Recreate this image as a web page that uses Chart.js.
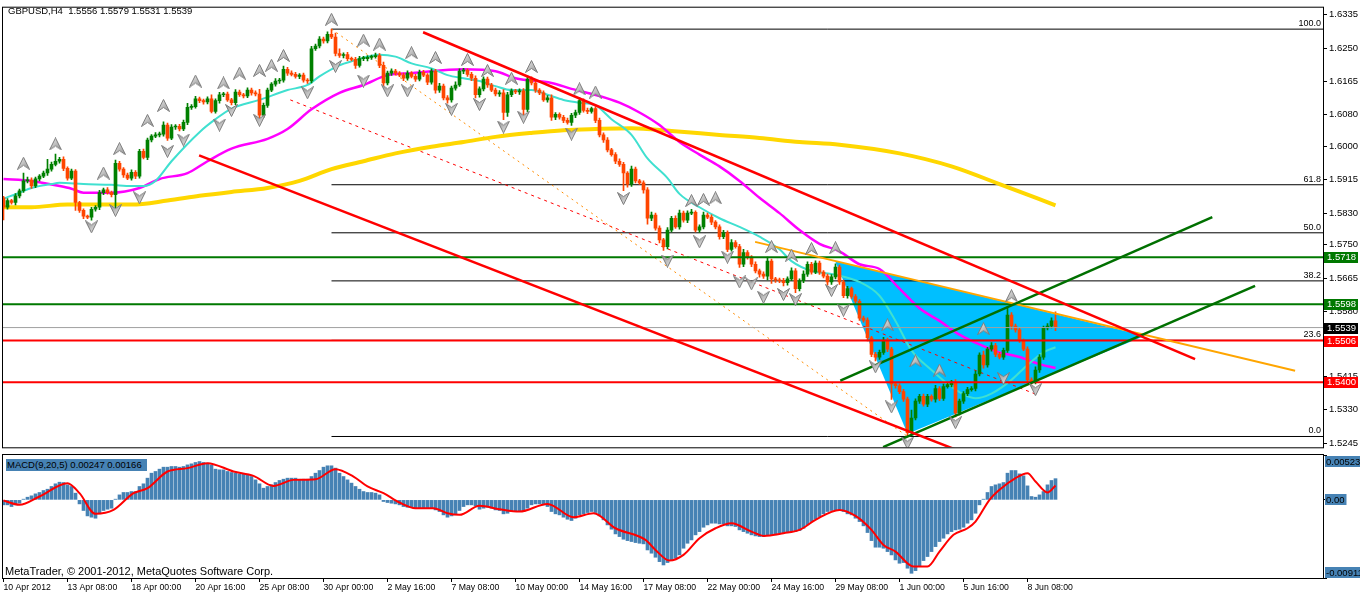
<!DOCTYPE html>
<html lang="en">
<head>
<meta charset="UTF-8">
<title>GBPUSD,H4</title>
<script src="https://cdn.jsdelivr.net/npm/chart.js"></script>
<style>
  body { margin: 0; background: #fff; width: 1360px; height: 596px; overflow: hidden; position: relative;
         font-family: 'Liberation Sans', Arial, sans-serif; }
  #mainChart { position: absolute; left: 0; top: 0; }
  #macdChart { position: absolute; left: 0; top: 453px; }
  .lbl { position: absolute; white-space: pre; color: #000; line-height: 1; }
  #title { left: 8px; top: 6px; font-size: 9.5px; }
  #macdTitle { left: 6px; top: 459px; font-size: 9.5px; background: #4682b4; padding: 1px 2px 1px 1px; width: 138px; }
  #copy { left: 5px; top: 566px; font-size: 11px; }
</style>
</head>
<body>
<canvas id="mainChart" width="1360" height="455"></canvas>
<canvas id="macdChart" width="1360" height="143"></canvas>
<div class="lbl" id="title">GBPUSD,H4  1.5556 1.5579 1.5531 1.5539</div>
<div class="lbl" id="macdTitle">MACD(9,20,5) 0.00247 0.00166</div>
<div class="lbl" id="copy">MetaTrader, © 2001-2012, MetaQuotes Software Corp.</div>

<script>
// ---- data (H4 bars, index 0 = 10 Apr 2012 00:00) ----
const dateLabels = ['10 Apr 2012', '13 Apr 08:00', '18 Apr 00:00', '20 Apr 16:00', '25 Apr 08:00',
  '30 Apr 00:00', '2 May 16:00', '7 May 08:00', '10 May 00:00', '14 May 16:00', '17 May 08:00',
  '22 May 00:00', '24 May 16:00', '29 May 08:00', '1 Jun 00:00', '5 Jun 16:00', '8 Jun 08:00'];
const barsPerLabel = 16;

const priceTickLabels = ['1.6335', '1.6250', '1.6165', '1.6080', '1.6000', '1.5915', '1.5830',
  '1.5750', '1.5665', '1.5580', '1.5500', '1.5415', '1.5330', '1.5245'];

const firstOpen = 1.5869;
const closes = [
  1.5845, 1.5862, 1.5857, 1.5874, 1.5887, 1.5912, 1.5914, 1.5899, 1.5917, 1.5924,
  1.5932, 1.5942, 1.5954, 1.5962, 1.5967, 1.5944, 1.5919, 1.5937, 1.5857, 1.5837,
  1.5822, 1.5820, 1.5840, 1.5845, 1.5882, 1.5889, 1.5882, 1.5877, 1.5957, 1.5942,
  1.5927, 1.5919, 1.5934, 1.5924, 1.5987, 1.5972, 1.6016, 1.6026, 1.6029, 1.6031,
  1.6054, 1.6021, 1.6049, 1.6051, 1.6044, 1.6061, 1.6099, 1.6101, 1.6121, 1.6116,
  1.6113, 1.6121, 1.6089, 1.6116, 1.6131, 1.6133, 1.6118, 1.6111, 1.6138, 1.6131,
  1.6128, 1.6143, 1.6136, 1.6133, 1.6079, 1.6104, 1.6143, 1.6158, 1.6166, 1.6168,
  1.6196, 1.6186, 1.6183, 1.6178, 1.6181, 1.6168, 1.6166, 1.6248, 1.6255, 1.6273,
  1.6268, 1.6285, 1.6278, 1.6236, 1.6231, 1.6233, 1.6223, 1.6221, 1.6206, 1.6223,
  1.6223, 1.6226, 1.6228, 1.6231, 1.6206, 1.6161, 1.6186, 1.6191, 1.6186, 1.6181,
  1.6173, 1.6186, 1.6178, 1.6171, 1.6188, 1.6181, 1.6163, 1.6191, 1.6143, 1.6153,
  1.6123, 1.6118, 1.6148, 1.6156, 1.6191, 1.6193, 1.6183, 1.6173, 1.6131, 1.6146,
  1.6171, 1.6156, 1.6143, 1.6133, 1.6136, 1.6086, 1.6131, 1.6141, 1.6138, 1.6141,
  1.6094, 1.6171, 1.6161, 1.6143, 1.6136, 1.6118, 1.6123, 1.6074, 1.6081, 1.6074,
  1.6066, 1.6061, 1.6079, 1.6086, 1.6116, 1.6091, 1.6089, 1.6096, 1.6066, 1.6029,
  1.6016, 1.5991, 1.5979, 1.5962, 1.5954, 1.5932, 1.5904, 1.5942, 1.5912, 1.5907,
  1.5889, 1.5817, 1.5825, 1.5792, 1.5762, 1.5745, 1.5787, 1.5817, 1.5795, 1.5830,
  1.5812, 1.5830, 1.5832, 1.5787, 1.5795, 1.5825, 1.5820, 1.5807, 1.5795, 1.5770,
  1.5780, 1.5738, 1.5755, 1.5745, 1.5700, 1.5730, 1.5718, 1.5700, 1.5683, 1.5675,
  1.5670, 1.5708, 1.5663, 1.5660, 1.5658, 1.5653, 1.5663, 1.5683, 1.5638, 1.5658,
  1.5675, 1.5700, 1.5680, 1.5703, 1.5680, 1.5670, 1.5655, 1.5668, 1.5693, 1.5655,
  1.5620, 1.5638, 1.5618, 1.5606, 1.5563, 1.5558, 1.5513, 1.5471, 1.5464, 1.5476,
  1.5506, 1.5484, 1.5396, 1.5391, 1.5376, 1.5357, 1.5272, 1.5309, 1.5352, 1.5364,
  1.5344, 1.5364, 1.5357, 1.5384, 1.5359, 1.5389, 1.5394, 1.5401, 1.5322, 1.5352,
  1.5371, 1.5381, 1.5384, 1.5421, 1.5469, 1.5444, 1.5484, 1.5493, 1.5471, 1.5464,
  1.5481, 1.5571, 1.5543, 1.5533, 1.5506, 1.5484, 1.5406, 1.5401, 1.5431, 1.5464,
  1.5538, 1.5543, 1.5556, 1.5539
];
// wick lengths in pips above / below the body
const upWick = [
  4, 5, 3, 6, 4, 20, 8, 6, 5, 4,  5, 25, 6, 18, 5, 6, 4, 5, 4, 3,  4, 3, 5, 4, 6, 5, 6, 4, 8, 5,
  4, 5, 6, 4, 5, 6, 5, 4, 6, 5,  8, 5, 6, 4, 5, 6, 10, 5, 6, 4,  4, 5, 10, 5, 6, 4, 5, 4, 6, 5,
  4, 6, 5, 5, 12, 6, 5, 4, 6, 5,  8, 5, 6, 5, 4, 5, 4, 6, 5, 6,  5, 6, 13, 10, 12, 5, 6, 4, 5, 6,
  6, 5, 4, 6, 5, 8, 5, 6, 5, 4,  5, 6, 4, 5, 6, 5, 4, 6, 5, 7,  5, 6, 5, 8, 6, 5, 4, 5, 6, 5,
  6, 5, 4, 5, 6, 8, 6, 5, 4, 5,  6, 8, 6, 5, 4, 5, 6, 8, 5, 4,  5, 6, 5, 6, 8, 5, 6, 4, 5, 6,
  5, 6, 4, 5, 6, 5, 4, 8, 5, 4,  5, 6, 8, 5, 6, 4, 6, 5, 6, 8,  5, 6, 8, 4, 5, 8, 5, 6, 4, 5,
  6, 5, 8, 5, 6, 8, 5, 4, 6, 5,  6, 10, 5, 4, 5, 6, 5, 8, 6, 5,  8, 6, 5, 6, 5, 4, 5, 6, 8, 5,
  5, 6, 4, 5, 4, 5, 6, 4, 5, 6,  8, 6, 5, 4, 5, 6, 5, 20, 6, 5,  6, 5, 4, 8, 5, 6, 5, 4, 6, 5,
  5, 6, 5, 8, 6, 10, 5, 8, 6, 5,  6, 20, 6, 5, 5, 4, 6, 5, 8, 6,  5, 6, 8, 23
];
const downWick = [
  32, 5, 4, 6, 5, 4, 5, 6, 4, 5,  4, 6, 5, 4, 5, 6, 5, 4, 20, 5,  6, 4, 8, 5, 6, 5, 4, 6, 35, 5,
  6, 4, 5, 6, 5, 4, 6, 5, 4, 5,  5, 6, 4, 6, 5, 4, 6, 5, 4, 5,  6, 5, 4, 5, 6, 5, 4, 6, 5, 4,
  5, 4, 6, 5, 8, 6, 5, 4, 5, 6,  5, 6, 4, 5, 6, 5, 6, 5, 4, 5,  6, 5, 4, 6, 5, 6, 5, 4, 8, 5,
  5, 6, 5, 4, 6, 8, 5, 6, 5, 4,  6, 5, 4, 6, 5, 4, 6, 5, 8, 6,  5, 8, 6, 5, 4, 6, 5, 6, 8, 6,
  5, 6, 4, 5, 6, 18, 10, 5, 4, 6,  15, 6, 5, 6, 5, 4, 6, 8, 6, 5,  6, 5, 8, 6, 5, 4, 6, 5, 6, 5,
  6, 5, 4, 6, 5, 45, 8, 6, 5, 4,  8, 15, 6, 5, 8, 10, 6, 5, 4, 6,  5, 6, 4, 5, 6, 5, 4, 6, 5, 6,
  5, 6, 5, 4, 8, 6, 5, 6, 5, 8,  6, 10, 12, 6, 5, 8, 6, 5, 10, 6,  5, 6, 5, 4, 6, 5, 8, 6, 5, 6,
  5, 6, 5, 8, 6, 5, 8, 6, 10, 6,  5, 6, 40, 6, 5, 6, 10, 6, 5, 6,  5, 6, 5, 8, 6, 5, 4, 6, 10, 5,
  6, 5, 4, 6, 5, 8, 6, 5, 6, 5,  6, 5, 8, 6, 5, 4, 8, 6, 5, 6,  6, 5, 5, 8
];

// moving averages, [bar, price]
const maFast = [[0, 1.5867], [4, 1.5882], [7, 1.5894], [12, 1.5904], [14, 1.5907], [20, 1.5904], [27, 1.5902],
  [32, 1.5899], [35, 1.5899], [38, 1.5912], [42, 1.5962], [49, 1.6036], [53, 1.6069], [57, 1.6096],
  [64, 1.6118], [71, 1.6143], [76, 1.6156], [79, 1.6178], [84, 1.6206], [87, 1.6216], [94, 1.6233],
  [98, 1.6228], [102, 1.6211], [107, 1.6198], [111, 1.6181], [115, 1.6173], [119, 1.6166], [123, 1.6153],
  [127, 1.6143], [132, 1.6143], [136, 1.6131], [140, 1.6118], [144, 1.6111], [148, 1.6104], [152, 1.6069],
  [157, 1.6029], [161, 1.5969], [166, 1.5919], [169, 1.5879], [174, 1.5845], [179, 1.5817], [184, 1.5795],
  [189, 1.5770], [194, 1.5738], [197, 1.5708], [202, 1.5683], [207, 1.5675], [214, 1.5655], [219, 1.5620],
  [223, 1.5556], [227, 1.5481], [232, 1.5431], [236, 1.5396], [240, 1.5369], [243, 1.5359], [247, 1.5371],
  [252, 1.5406], [256, 1.5444], [260, 1.5476], [263, 1.5489]];
const maMid = [[0, 1.5917], [7, 1.5912], [14, 1.5899], [17, 1.5892], [20, 1.5882], [27, 1.5882], [34, 1.5894],
  [39, 1.5917], [46, 1.5932], [51, 1.5962], [57, 1.5994], [66, 1.6019], [71, 1.6044], [77, 1.6094],
  [84, 1.6136], [90, 1.6156], [96, 1.6181], [102, 1.6186], [115, 1.6196], [123, 1.6191], [128, 1.6173],
  [137, 1.6161], [142, 1.6146], [149, 1.6128], [154, 1.6111], [159, 1.6086], [164, 1.6054], [169, 1.6011],
  [174, 1.5979], [179, 1.5949], [184, 1.5912], [189, 1.5869], [194, 1.5830], [199, 1.5787], [204, 1.5752],
  [209, 1.5733], [214, 1.5700], [219, 1.5688], [224, 1.5638], [229, 1.5588], [234, 1.5556], [239, 1.5521],
  [244, 1.5496], [249, 1.5476], [254, 1.5464], [259, 1.5446], [263, 1.5436]];
const maSlow = [[0, 1.5845], [7, 1.5845], [16, 1.5852], [32, 1.5852], [41, 1.5862], [49, 1.5874], [57, 1.5884],
  [66, 1.5894], [74, 1.5912], [82, 1.5942], [90, 1.5962], [98, 1.5982], [107, 1.5999], [115, 1.6011],
  [123, 1.6024], [132, 1.6034], [140, 1.6041], [148, 1.6044], [157, 1.6046], [167, 1.6039], [179, 1.6029],
  [189, 1.6021], [199, 1.6011], [209, 1.6004], [224, 1.5982], [237, 1.5949], [249, 1.5904], [263, 1.5850]];

// drawn objects, [bar, price]
const redChannelUpper = [[104.9, 1.6290], [297.9, 1.5459]];
const redChannelLower = [[48.9, 1.5977], [240, 1.5221]];
const redDotted = [[71.7, 1.6118], [258.7, 1.5367]];
const orangeLine = [[187.9, 1.5757], [322.9, 1.5429]];
const greenChannelUpper = [[209.2, 1.5404], [302.2, 1.5820]];
const greenChannelLower = [[219.9, 1.5235], [312.9, 1.5645]];
const triangle = [[207.9, 1.5708], [226, 1.5269], [285.4, 1.5518]];
const greenLevels = [1.5718, 1.5598];
const redLevels = [1.5506, 1.5400];
const bidPrice = 1.5539;
const fibHigh = [82, 1.6298];
const fibLow = [226, 1.5262];
const fibLevels = [0, 23.6, 38.2, 50, 61.8, 100];

const upFractals = [[5, 1.5957], [13, 1.6006], [25, 1.5932], [29, 1.5994], [36, 1.6066], [40, 1.6104],
  [48, 1.6166], [55, 1.6161], [59, 1.6186], [64, 1.6193], [67, 1.6206], [70, 1.6231], [82, 1.6323],
  [90, 1.6270], [94, 1.6260], [102, 1.6238], [108, 1.6226], [116, 1.6221], [121, 1.6193], [127, 1.6173],
  [132, 1.6203], [144, 1.6146], [148, 1.6138], [172, 1.5862], [175, 1.5865], [178, 1.5869], [192, 1.5745],
  [197, 1.5723], [202, 1.5740], [208, 1.5742], [221, 1.5546], [228, 1.5454], [234, 1.5431], [245, 1.5536],
  [252, 1.5620]];
const downFractals = [[22, 1.5795], [28, 1.5837], [34, 1.5869], [41, 1.5987], [45, 1.6016], [54, 1.6054],
  [57, 1.6091], [64, 1.6066], [76, 1.6136], [83, 1.6203], [90, 1.6166], [96, 1.6141], [101, 1.6141],
  [112, 1.6094], [119, 1.6106], [125, 1.6049], [130, 1.6074], [142, 1.6031], [155, 1.5867], [166, 1.5708],
  [174, 1.5757], [181, 1.5718], [184, 1.5655], [187, 1.5650], [190, 1.5616], [195, 1.5623], [198, 1.5610],
  [207, 1.5633], [210, 1.5583], [218, 1.5439], [222, 1.5337], [226, 1.5245], [238, 1.5297], [250, 1.5409],
  [258, 1.5381]];

// MACD(9,20,5)
const macdHist = [
  -0.00058, -0.00058, -0.00078, -0.00058, -0.00039, 0.00008, 0.00031, 0.00047, 0.00070, 0.00086,
  0.00109, 0.00124, 0.00156, 0.00187, 0.00206, 0.00202, 0.00175, 0.00156, 0.00078, -0.00047,
  -0.00124, -0.00187, -0.00202, -0.00214, -0.00163, -0.00124, -0.00109, -0.00097, 0.00008, 0.00058,
  0.00086, 0.00086, 0.00097, 0.00097, 0.00156, 0.00187, 0.00253, 0.00311, 0.00331, 0.00358,
  0.00381, 0.00381, 0.00389, 0.00389, 0.00381, 0.00389, 0.00408, 0.00420, 0.00436, 0.00447,
  0.00436, 0.00428, 0.00408, 0.00358, 0.00350, 0.00350, 0.00331, 0.00319, 0.00311, 0.00303,
  0.00303, 0.00292, 0.00272, 0.00233, 0.00187, 0.00136, 0.00156, 0.00175, 0.00202, 0.00226,
  0.00241, 0.00253, 0.00253, 0.00253, 0.00241, 0.00241, 0.00241, 0.00272, 0.00311, 0.00342,
  0.00381, 0.00397, 0.00397, 0.00370, 0.00311, 0.00272, 0.00233, 0.00195, 0.00156, 0.00124,
  0.00097, 0.00086, 0.00086, 0.00078, 0.00058, -0.00019, -0.00031, -0.00039, -0.00047, -0.00058,
  -0.00078, -0.00086, -0.00086, -0.00097, -0.00097, -0.00097, -0.00097, -0.00097, -0.00117, -0.00136,
  -0.00175, -0.00202, -0.00187, -0.00163, -0.00124, -0.00078, -0.00058, -0.00058, -0.00070, -0.00109,
  -0.00097, -0.00086, -0.00097, -0.00117, -0.00124, -0.00163, -0.00156, -0.00136, -0.00136, -0.00136,
  -0.00136, -0.00097, -0.00058, -0.00047, -0.00047, -0.00058, -0.00078, -0.00136, -0.00163, -0.00175,
  -0.00202, -0.00226, -0.00241, -0.00214, -0.00175, -0.00163, -0.00148, -0.00136, -0.00148, -0.00187,
  -0.00233, -0.00292, -0.00342, -0.00397, -0.00428, -0.00459, -0.00475, -0.00486, -0.00498, -0.00506,
  -0.00513, -0.00584, -0.00622, -0.00669, -0.00720, -0.00759, -0.00731, -0.00700, -0.00681, -0.00642,
  -0.00564, -0.00506, -0.00467, -0.00408, -0.00370, -0.00319, -0.00292, -0.00272, -0.00272, -0.00280,
  -0.00280, -0.00303, -0.00303, -0.00311, -0.00350, -0.00370, -0.00389, -0.00408, -0.00420, -0.00428,
  -0.00428, -0.00408, -0.00408, -0.00408, -0.00389, -0.00389, -0.00381, -0.00370, -0.00370, -0.00358,
  -0.00331, -0.00292, -0.00253, -0.00226, -0.00195, -0.00163, -0.00136, -0.00124, -0.00124, -0.00124,
  -0.00136, -0.00163, -0.00175, -0.00214, -0.00253, -0.00303, -0.00381, -0.00475, -0.00552, -0.00552,
  -0.00564, -0.00603, -0.00642, -0.00700, -0.00739, -0.00731, -0.00797, -0.00856, -0.00825, -0.00770,
  -0.00708, -0.00661, -0.00603, -0.00545, -0.00486, -0.00447, -0.00397, -0.00370, -0.00350, -0.00342,
  -0.00319, -0.00272, -0.00233, -0.00156, -0.00058, 0.00008, 0.00086, 0.00156, 0.00175, 0.00187,
  0.00202, 0.00311, 0.00342, 0.00342, 0.00303, 0.00280, 0.00163, 0.00039, 0.00031, 0.00058,
  0.00097, 0.00175, 0.00226, 0.00247
];
const macdSignal = [[0, -0.00008], [4, -0.00058], [9, 0.00039], [16, 0.00195], [19, 0.00078], [23, -0.00163],
  [27.5, -0.00117], [32.5, 0.00078], [36, 0.00136], [41, 0.00331], [46, 0.00370], [51, 0.00428],
  [57.5, 0.00331], [62.5, 0.00280], [67.5, 0.00163], [72.5, 0.00233], [78, 0.00241], [83, 0.00358],
  [87.5, 0.00272], [91, 0.00156], [95, 0.00078], [99, -0.00031], [103, -0.00097], [107.5, -0.00097],
  [111, -0.00156], [114, -0.00175], [119, -0.00070], [124, -0.00109], [129, -0.00136], [136, -0.00047],
  [142.5, -0.00202], [147.5, -0.00156], [153, -0.00331], [160.5, -0.00467], [163, -0.00584],
  [166.5, -0.00708], [170, -0.00642], [174, -0.00447], [178, -0.00331], [182, -0.00272], [187, -0.00370],
  [190, -0.00420], [195, -0.00389], [199, -0.00350], [203, -0.00233], [209, -0.00117], [213, -0.00187],
  [217, -0.00350], [220, -0.00525], [223, -0.00603], [227.5, -0.00778], [231, -0.00778], [234, -0.00603],
  [237.5, -0.00408], [241, -0.00331], [243, -0.00253], [246.5, 0], [249, 0.00117], [253, 0.00253],
  [256, 0.00311], [258, 0.00214], [261, 0.00086], [263, 0.00166]];
const macdTicks = [0.00523, 0, -0.00911];
const macdTickLabels = ['0.00523', '0.00', '-0.00911'];

// ---- chart setup ----
const xMin = -0.125, xMax = 329.875;
const priceMax = 1.63525, priceMin = 1.52345;
const FONT = '"Liberation Sans", Arial, sans-serif';
const BULL = '#008000', BEAR = '#ff4500';

const opens = closes.map((c, i) => i === 0 ? firstOpen : closes[i - 1]);
const highs = closes.map((c, i) => Math.max(c, opens[i]) + upWick[i] / 10000);
const lows = closes.map((c, i) => Math.min(c, opens[i]) - downWick[i] / 10000);
const candleColors = closes.map((c, i) => c >= opens[i] ? BULL : BEAR);

const pts = arr => arr.map(p => ({ x: p[0], y: p[1] }));
const level = (v, from) => [{ x: from, y: v }, { x: xMax, y: v }];

function lineSet(data, color, width, order, extra) {
  return Object.assign({ type: 'line', data, borderColor: color, borderWidth: width,
    pointRadius: 0, fill: false, tension: 0, order }, extra || {});
}

// grey MT4-like fractal arrow
function arrowIcon() {
  const c = document.createElement('canvas');
  c.width = 13; c.height = 13;
  const g = c.getContext('2d');
  g.beginPath();
  g.moveTo(6.5, 0.5); g.lineTo(12.5, 12.5); g.lineTo(6.5, 8.5); g.lineTo(0.5, 12.5); g.closePath();
  const grad = g.createLinearGradient(0, 0, 13, 13);
  grad.addColorStop(0, '#f2f2f2'); grad.addColorStop(1, '#8c8c8c');
  g.fillStyle = grad; g.fill();
  g.strokeStyle = '#7d7d7d'; g.lineWidth = 1; g.stroke();
  return c;
}
const arrow = arrowIcon();

const fibPrice = lv => fibLow[1] + (fibHigh[1] - fibLow[1]) * lv / 100;

const datasets = [];
// fibonacci levels
fibLevels.forEach(lv => datasets.push(lineSet(level(fibPrice(lv), fibHigh[0]), '#000', 1, 60)));
datasets.push(lineSet(pts([fibHigh, fibLow]), '#ff8c00', 1, 55, { borderDash: [2, 4] }));
datasets.push(lineSet(pts(redDotted), '#ff0000', 1, 55, { borderDash: [3, 4] }));
// moving averages
datasets.push(lineSet(pts(maSlow), '#ffd700', 4, 50, { cubicInterpolationMode: 'monotone' }));
datasets.push(lineSet(pts(maMid), '#ff00ff', 2.5, 49, { cubicInterpolationMode: 'monotone' }));
datasets.push(lineSet(pts(maFast), '#40e0d0', 2, 48, { cubicInterpolationMode: 'monotone' }));
// candles
datasets.push({ type: 'bar', data: closes.map((c, i) => ({ x: i, y: [lows[i], highs[i]] })),
  backgroundColor: candleColors, barThickness: 1, grouped: false, order: 41 });
datasets.push({ type: 'bar', data: closes.map((c, i) => ({ x: i, y: [opens[i], c] })),
  backgroundColor: candleColors, barThickness: 3, minBarLength: 1, grouped: false, order: 40 });
// horizontal levels
datasets.push(lineSet(level(bidPrice, xMin), '#a0a0a0', 1, 20));
greenLevels.forEach(v => datasets.push(lineSet(level(v, xMin), '#007800', 2, 15)));
redLevels.forEach(v => datasets.push(lineSet(level(v, xMin), '#ff0000', 2, 15)));
// trend lines
datasets.push(lineSet(pts(orangeLine), '#ffa500', 2, 12));
datasets.push(lineSet(pts(redChannelUpper), '#ff0000', 2.5, 10));
datasets.push(lineSet(pts(redChannelLower), '#ff0000', 2.5, 10));
datasets.push(lineSet(pts(greenChannelUpper), '#007000', 2.5, 10));
datasets.push(lineSet(pts(greenChannelLower), '#007000', 2.5, 10));
// fractals
datasets.push({ type: 'line', data: pts(upFractals), showLine: false, pointStyle: arrow, pointRadius: 6, order: 1 });
datasets.push({ type: 'line', data: pts(downFractals), showLine: false, pointStyle: arrow, pointRadius: 6,
  rotation: 180, order: 1 });

const framePlugin = {
  id: 'frame',
  afterDraw(chart) {
    const { ctx, chartArea: a } = chart;
    ctx.save();
    ctx.strokeStyle = '#000';
    ctx.lineWidth = 1;
    ctx.strokeRect(a.left - 0.5, a.top - 0.5, a.right - a.left + 1, a.bottom - a.top + 1);
    ctx.restore();
  }
};

const trianglePlugin = {
  id: 'triangle',
  beforeDatasetsDraw(chart) {
    const { ctx, chartArea: a, scales: { x, y } } = chart;
    ctx.save();
    ctx.beginPath();
    ctx.rect(a.left, a.top, a.right - a.left, a.bottom - a.top);
    ctx.clip();
    ctx.beginPath();
    triangle.forEach((p, k) => {
      const px = x.getPixelForValue(p[0]), py = y.getPixelForValue(p[1]);
      if (k) ctx.lineTo(px, py); else ctx.moveTo(px, py);
    });
    ctx.closePath();
    ctx.fillStyle = '#00bfff';
    ctx.fill();
    ctx.restore();
  }
};

const fibLabelPlugin = {
  id: 'fibLabels',
  afterDatasetsDraw(chart) {
    const { ctx, chartArea: a, scales: { y } } = chart;
    ctx.save();
    ctx.font = '9px ' + FONT;
    ctx.fillStyle = '#000';
    ctx.textAlign = 'right';
    ctx.textBaseline = 'bottom';
    fibLevels.forEach(lv => ctx.fillText(lv.toFixed(1), a.right - 2, y.getPixelForValue(fibPrice(lv)) - 1));
    ctx.restore();
  }
};

const priceBoxPlugin = {
  id: 'priceBoxes',
  afterDraw(chart) {
    const { ctx, chartArea: a, scales: { y } } = chart;
    const boxes = greenLevels.map(v => [v, '#007800'])
      .concat([[bidPrice, '#000000']])
      .concat(redLevels.map(v => [v, '#ff0000']));
    ctx.save();
    ctx.font = '9.5px ' + FONT;
    ctx.textBaseline = 'middle';
    boxes.forEach(([v, c]) => {
      const py = Math.round(y.getPixelForValue(v));
      ctx.fillStyle = c;
      ctx.fillRect(a.right + 1, py - 5, 34, 11);
      ctx.fillStyle = '#fff';
      ctx.fillText(v.toFixed(4), a.right + 4, py + 0.5);
    });
    ctx.restore();
  }
};

new Chart(document.getElementById('mainChart'), {
  type: 'bar',
  data: { datasets },
  options: {
    animation: false,
    responsive: false,
    events: [],
    layout: { autoPadding: false, padding: { left: 3, top: 3, right: 0, bottom: 3 } },
    plugins: { legend: { display: false }, tooltip: { enabled: false } },
    scales: {
      x: { type: 'linear', min: xMin, max: xMax, display: false, offset: false, grid: { offset: false } },
      y: {
        type: 'linear', position: 'right', min: priceMin, max: priceMax,
        afterFit: s => { s.width = 37; },
        afterBuildTicks: s => { s.ticks = priceTickLabels.map(t => ({ value: parseFloat(t) })); },
        ticks: { callback: (v, i) => priceTickLabels[i], color: '#000', padding: 2, autoSkip: false,
                 font: { family: FONT, size: 9.5 } },
        grid: { drawOnChartArea: false, tickLength: 4, color: '#000' },
        border: { color: '#000' }
      }
    }
  },
  plugins: [trianglePlugin, fibLabelPlugin, framePlugin, priceBoxPlugin]
});

const macdLabelPlugin = {
  id: 'macdLabels',
  afterDraw(chart) {
    const { ctx, chartArea: a, scales: { y } } = chart;
    ctx.save();
    ctx.font = '9.5px ' + FONT;
    ctx.textBaseline = 'middle';
    macdTicks.forEach((v, k) => {
      const h = 11;
      let top = Math.round(y.getPixelForValue(v) - h / 2);
      if (top < a.top + 1) top = a.top + 1;
      if (top + h > a.bottom) top = a.bottom - h;
      const w = ctx.measureText(macdTickLabels[k]).width + 3;
      ctx.fillStyle = '#4682b4';
      ctx.fillRect(a.right + 2, top, w, h);
      ctx.fillStyle = '#000';
      ctx.fillText(macdTickLabels[k], a.right + 3, top + h / 2 + 0.5);
    });
    ctx.restore();
  }
};

new Chart(document.getElementById('macdChart'), {
  type: 'bar',
  data: {
    datasets: [
      lineSet(pts(macdSignal), '#ff0000', 2, 0, { cubicInterpolationMode: 'monotone' }),
      { type: 'bar', data: macdHist.map((v, i) => ({ x: i, y: v })), backgroundColor: '#4682b4',
        barThickness: 3, grouped: false, order: 1 }
    ]
  },
  options: {
    animation: false,
    responsive: false,
    events: [],
    layout: { autoPadding: false, padding: { left: 3, top: 2, right: 0, bottom: 0 } },
    plugins: { legend: { display: false }, tooltip: { enabled: false } },
    scales: {
      x: {
        type: 'linear', min: xMin, max: xMax, offset: false,
        afterFit: s => { s.height = 18; },
        afterBuildTicks: s => { s.ticks = dateLabels.map((d, k) => ({ value: k * barsPerLabel })); },
        ticks: { callback: (v, i) => dateLabels[i], align: 'start', maxRotation: 0, autoSkip: false,
                 padding: 0, color: '#000', font: { family: FONT, size: 8.7 } },
        grid: { drawOnChartArea: false, tickLength: 4, color: '#000', offset: false },
        border: { color: '#000' }
      },
      y: {
        type: 'linear', position: 'right', min: -0.00911, max: 0.00523,
        afterFit: s => { s.width = 37; },
        afterBuildTicks: s => { s.ticks = macdTicks.map(v => ({ value: v })); },
        ticks: { display: false },
        grid: { drawOnChartArea: false, tickLength: 4, color: '#000' },
        border: { color: '#000' }
      }
    }
  },
  plugins: [framePlugin, macdLabelPlugin]
});
</script>
</body>
</html>
